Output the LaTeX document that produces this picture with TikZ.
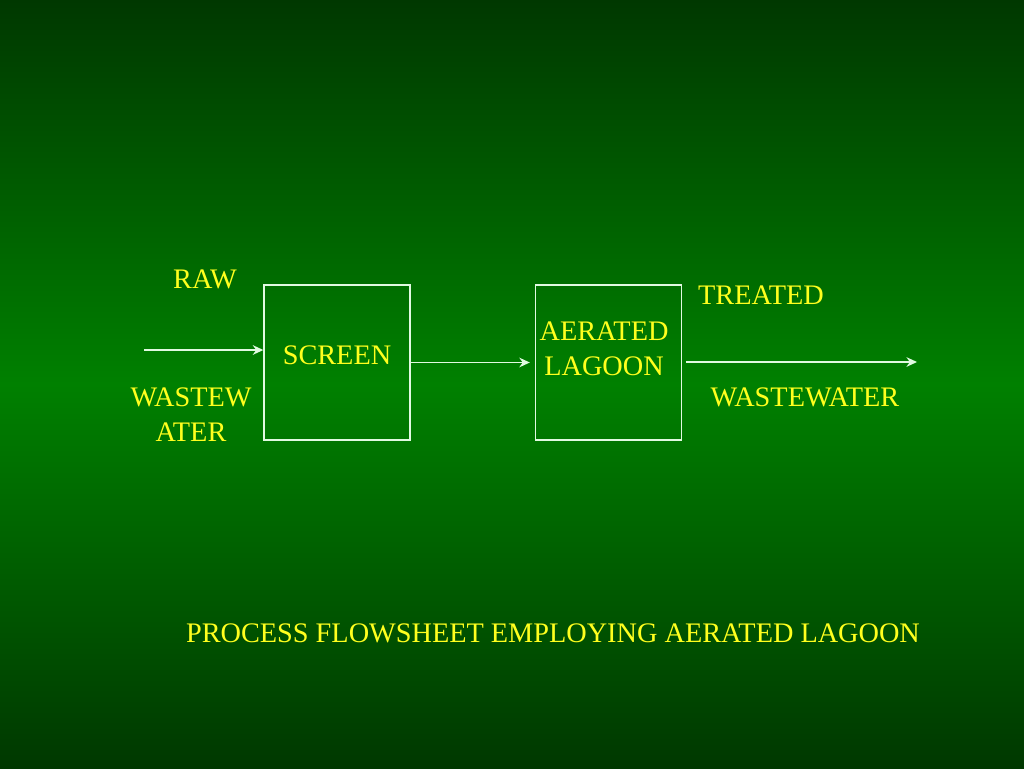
\documentclass[tikz,border=0pt]{standalone}
\usepackage{fontspec}
\setmainfont{Liberation Serif}
\usetikzlibrary{arrows.meta}
\definecolor{deepgreen}{RGB}{0,56,0}
\definecolor{midgreen}{RGB}{0,128,0}
\definecolor{labelyellow}{RGB}{255,255,30}
\definecolor{linewhite}{RGB}{225,250,225}
\tikzset{
  unitbox/.style={draw=linewhite, line width=0.8pt, minimum width=2.92cm, minimum height=3.1cm},
  flow/.style={draw=linewhite, line width=0.8pt, -{Stealth[length=6pt,width=5.5pt]}},
  lbl/.style={text=labelyellow, font=\fontsize{16.1}{19}\selectfont, inner sep=0pt, align=center}
}
\begin{document}
\begin{tikzpicture}[x=0.02cm,y=-0.02cm]
\shade[top color=deepgreen, bottom color=deepgreen, middle color=midgreen] (0,0) rectangle (1024,768);
\useasboundingbox (0,0) rectangle (1024,768);
\node[unitbox] (screen) at (337,362.5) {};
\node[unitbox] (lagoon) at (608.5,362.5) {};
\coordinate (rawin) at (144,350);
\coordinate (treatedout) at (917,362);
\draw[flow] (rawin) -- (rawin -| screen.west);
\draw[flow, shorten >=0.1cm] (screen.east) -- (lagoon.west);
\draw[flow, shorten <=0.08cm] (lagoon.east |- treatedout) -- (treatedout);
\node[lbl] (raw) at (205,279) {RAW};
\node[lbl] (wastew) at (191,397) {WASTEW};
\node[lbl] (ater) at (191,432) {ATER};
\node[lbl] (screentext) at (337,355) {SCREEN};
\node[lbl] (aerated) at (604,331) {AERATED};
\node[lbl] (lagoontext) at (604,366) {LAGOON};
\node[lbl] (treated) at (761,295) {TREATED};
\node[lbl] (wastewater) at (805,397) {WASTEWATER};
\node[lbl] (caption) at (553,633) {PROCESS FLOWSHEET EMPLOYING AERATED LAGOON};
\end{tikzpicture}
\end{document}
